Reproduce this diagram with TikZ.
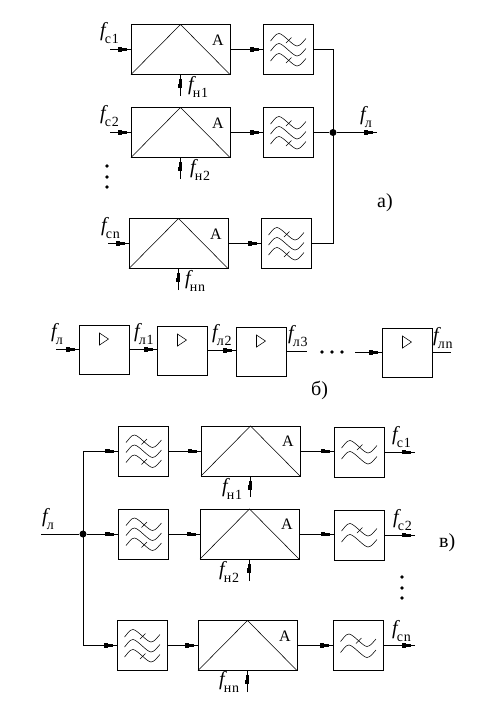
\documentclass[tikz,border=0pt]{standalone}
\usepackage{fontspec}
\setmainfont{Liberation Serif}
\usetikzlibrary{decorations.markings}
\newcommand{\flab}[1]{{\fontsize{20}{20}\selectfont\itshape f}\kern-1pt\raisebox{-7pt}{\fontsize{14}{14}\selectfont\addfontfeature{LetterSpace=6}#1}}
\tikzset{
  ampbox/.style={draw,rectangle,minimum width=99pt,minimum height=50pt,inner sep=0pt,outer sep=0pt,line width=.9pt},
  fltbox/.style={draw,rectangle,minimum width=50pt,minimum height=50pt,inner sep=0pt,outer sep=0pt,line width=.9pt},
  linbox/.style={draw,rectangle,minimum width=50pt,minimum height=49pt,inner sep=0pt,outer sep=0pt,line width=.9pt},
  lbl/.style={inner sep=0pt,anchor=base west},
  plain/.style={line width=.9pt},
  sig/.style={line width=.9pt,postaction={decorate},decoration={markings,mark=at position -9pt with {\fill (-4.5pt,-2.4pt) rectangle (0pt,2.4pt); \fill (0pt,-1.5pt) rectangle (4.5pt,1.5pt);}}},
  jdot/.style={circle,fill,inner sep=0pt,minimum size=7pt},
  ddot/.style={circle,fill,inner sep=0pt,minimum size=3.8pt},
  inner line/.style={line width=.55pt},
  bigtext/.style={lbl,font=\fontsize{20}{20}\selectfont}
}
\newcommand{\amptri}[1]{%
  \draw[inner line] (#1.south west) -- (#1.north) -- (#1.south east);
  \node[lbl] at ([xshift=-18pt,yshift=-20.5pt]#1.north east) {\fontsize{16}{16}\selectfont А};}
\newcommand{\wv}[2]{% box, offset
  \begin{scope}[shift={(#1.north west)},yshift=-#2pt,inner line]
    \draw (7.5,16.5) .. controls (10,14) and (12.5,9) .. (16,9) .. controls (20,9) and (30,21.5) .. (34,21.5) .. controls (37.5,21.5) and (40.5,16.5) .. (43,14);
  \end{scope}}
\newcommand{\xm}[2]{%
  \begin{scope}[shift={(#1.north west)},yshift=-#2pt,inner line]
    \draw (23,18.5) -- (28.5,13);
  \end{scope}}
\newcommand{\filterthree}[1]{\wv{#1}{0}\wv{#1}{10}\wv{#1}{20}\xm{#1}{0}\xm{#1}{20}}
\newcommand{\filtertwo}[1]{\wv{#1}{4.5}\wv{#1}{15.5}\xm{#1}{4.5}}
\newcommand{\ampsym}[1]{\draw[inner line] ([shift={(-4.5pt,-8pt)}]#1.north) -- ++(0pt,-12pt) -- ++(9pt,6pt) -- cycle;}
\begin{document}
\begin{tikzpicture}[x=1pt,y=-1pt]
\useasboundingbox (0,0) rectangle (493,710);
% a)
\node[ampbox] (a1) at (180.5,49.5) {};
\node[fltbox] (f1) at (288,49.5) {};
\node[ampbox] (a2) at (180.5,132.5) {};
\node[fltbox] (f2) at (288,132.5) {};
\node[ampbox] (a3) at (178.5,243.5) {};
\node[fltbox] (f3) at (286,243.5) {};
\foreach \n in {a1,a2,a3}{\expandafter\amptri\expandafter{\n}}
\foreach \n in {f1,f2,f3}{\expandafter\filterthree\expandafter{\n}}
\coordinate (ci1) at (110,49.5);
\coordinate (ci2) at (110,132.5);
\coordinate (ci3) at (108,243.5);
\coordinate (cn1) at (180,96);
\coordinate (cn2) at (180,179);
\coordinate (cn3) at (178,290);
\coordinate (busT) at (333,49.5);
\coordinate (busB) at (333,243.5);
\coordinate (fout) at (377,132.5);
\node[jdot] (j1) at (333,132.5) {};
\draw[sig] (ci1) -- (a1.west);
\draw[sig] (ci2) -- (a2.west);
\draw[sig] (ci3) -- (a3.west);
\draw[sig] (a1.east) -- (f1.west);
\draw[sig] (a2.east) -- (f2.west);
\draw[sig] (a3.east) -- (f3.west);
\draw[sig] (cn1) -- (cn1 |- a1.south);
\draw[sig] (cn2) -- (cn2 |- a2.south);
\draw[sig] (cn3) -- (cn3 |- a3.south);
\draw[plain] (f1.east) -- (busT) -- (busB) -- (f3.east);
\draw[plain] (f2.east) -- (j1);
\draw[sig] (j1) -- (fout);
\node[ddot] (d1) at (107,166) {};
\node[ddot] (d2) at (107,177) {};
\node[ddot] (d3) at (107,187) {};
\node[lbl] (l1) at (100,36) {\flab{с1}};
\node[lbl] (l2) at (100,119) {\flab{с2}};
\node[lbl] (l3) at (101,231) {\flab{сn}};
\node[lbl] (l4) at (188,90) {\flab{н1}};
\node[lbl] (l5) at (190,173) {\flab{н2}};
\node[lbl] (l6) at (185,284) {\flab{нn}};
\node[lbl] (l7) at (360,120) {\flab{л}};
\node[bigtext] (l8) at (377,207) {а)};
% b)
\node[linbox] (b1) at (104,349.5) {};
\node[linbox] (b2) at (182,350.5) {};
\node[linbox] (b3) at (261,351.5) {};
\node[linbox] (b4) at (407,352.5) {};
\foreach \n in {b1,b2,b3,b4}{\expandafter\ampsym\expandafter{\n}}
\coordinate (bi) at (56,349.5);
\coordinate (bo3) at (307,351.5);
\coordinate (bi4) at (355,352.5);
\coordinate (bo4) at (451,352.5);
\draw[sig] (bi) -- (b1.west);
\draw[sig] (b1.east) -- (b1.east -| b2.west);
\draw[sig] (b2.east) -- (b2.east -| b3.west);
\draw[plain] (b3.east) -- (bo3);
\draw[sig] (bi4) -- (b4.west);
\draw[plain] (b4.east) -- (bo4);
\node[ddot] (e1) at (322,352) {};
\node[ddot] (e2) at (332,352) {};
\node[ddot] (e3) at (342,352) {};
\node[lbl] (m1) at (51,337) {\flab{л}};
\node[lbl] (m2) at (134,337) {\flab{л1}};
\node[lbl] (m3) at (212,338) {\flab{л2}};
\node[lbl] (m4) at (288,339) {\flab{л3}};
\node[lbl] (m5) at (433,341) {\flab{лn}};
\node[bigtext] (m6) at (311,395) {б)};
% c)
\node[fltbox] (g1) at (143.5,451) {};
\node[ampbox] (c1) at (250.5,451) {};
\node[fltbox] (h1) at (359,452) {};
\node[fltbox] (g2) at (143.5,534) {};
\node[ampbox] (c2) at (249.5,534) {};
\node[fltbox] (h2) at (359,535) {};
\node[fltbox] (g3) at (142,645.5) {};
\node[ampbox] (c3) at (247.5,645.5) {};
\node[fltbox] (h3) at (358,645.5) {};
\foreach \n in {c1,c2,c3}{\expandafter\amptri\expandafter{\n}}
\foreach \n in {g1,g2,g3}{\expandafter\filterthree\expandafter{\n}}
\foreach \n in {h1,h2,h3}{\expandafter\filtertwo\expandafter{\n}}
\coordinate (vi) at (41,534);
\coordinate (vT) at (83,451);
\coordinate (vB) at (83,645.5);
\node[jdot] (j2) at (83,534) {};
\coordinate (o1) at (415,452);
\coordinate (o2) at (415,535);
\coordinate (o3) at (415,645.5);
\coordinate (u1) at (250,497);
\coordinate (u2) at (249,581);
\coordinate (u3) at (247,692);
\draw[plain] (vi) -- (j2);
\draw[plain] (vT) -- (vB);
\draw[sig] (vT) -- (g1.west);
\draw[sig] (j2) -- (g2.west);
\draw[sig] (vB) -- (g3.west);
\draw[sig] (g1.east) -- (c1.west);
\draw[sig] (g2.east) -- (c2.west);
\draw[sig] (g3.east) -- (c3.west);
\draw[sig] (c1.east) -- (c1.east -| h1.west);
\draw[sig] (c2.east) -- (c2.east -| h2.west);
\draw[sig] (c3.east) -- (h3.west);
\draw[sig] (h1.east) -- (o1);
\draw[sig] (h2.east) -- (o2);
\draw[sig] (h3.east) -- (o3);
\draw[sig] (u1) -- (u1 |- c1.south);
\draw[sig] (u2) -- (u2 |- c2.south);
\draw[sig] (u3) -- (u3 |- c3.south);
\node[ddot] (k1) at (402,577) {};
\node[ddot] (k2) at (402,588) {};
\node[ddot] (k3) at (402,598) {};
\node[lbl] (n1) at (42,522) {\flab{л}};
\node[lbl] (n2) at (222,492) {\flab{н1}};
\node[lbl] (n3) at (219,575) {\flab{н2}};
\node[lbl] (n4) at (219,685) {\flab{нn}};
\node[lbl] (n5) at (392,440) {\flab{с1}};
\node[lbl] (n6) at (393,523) {\flab{с2}};
\node[lbl] (n7) at (392,634) {\flab{сn}};
\node[bigtext] (n8) at (439,547) {в)};
\end{tikzpicture}
\end{document}
